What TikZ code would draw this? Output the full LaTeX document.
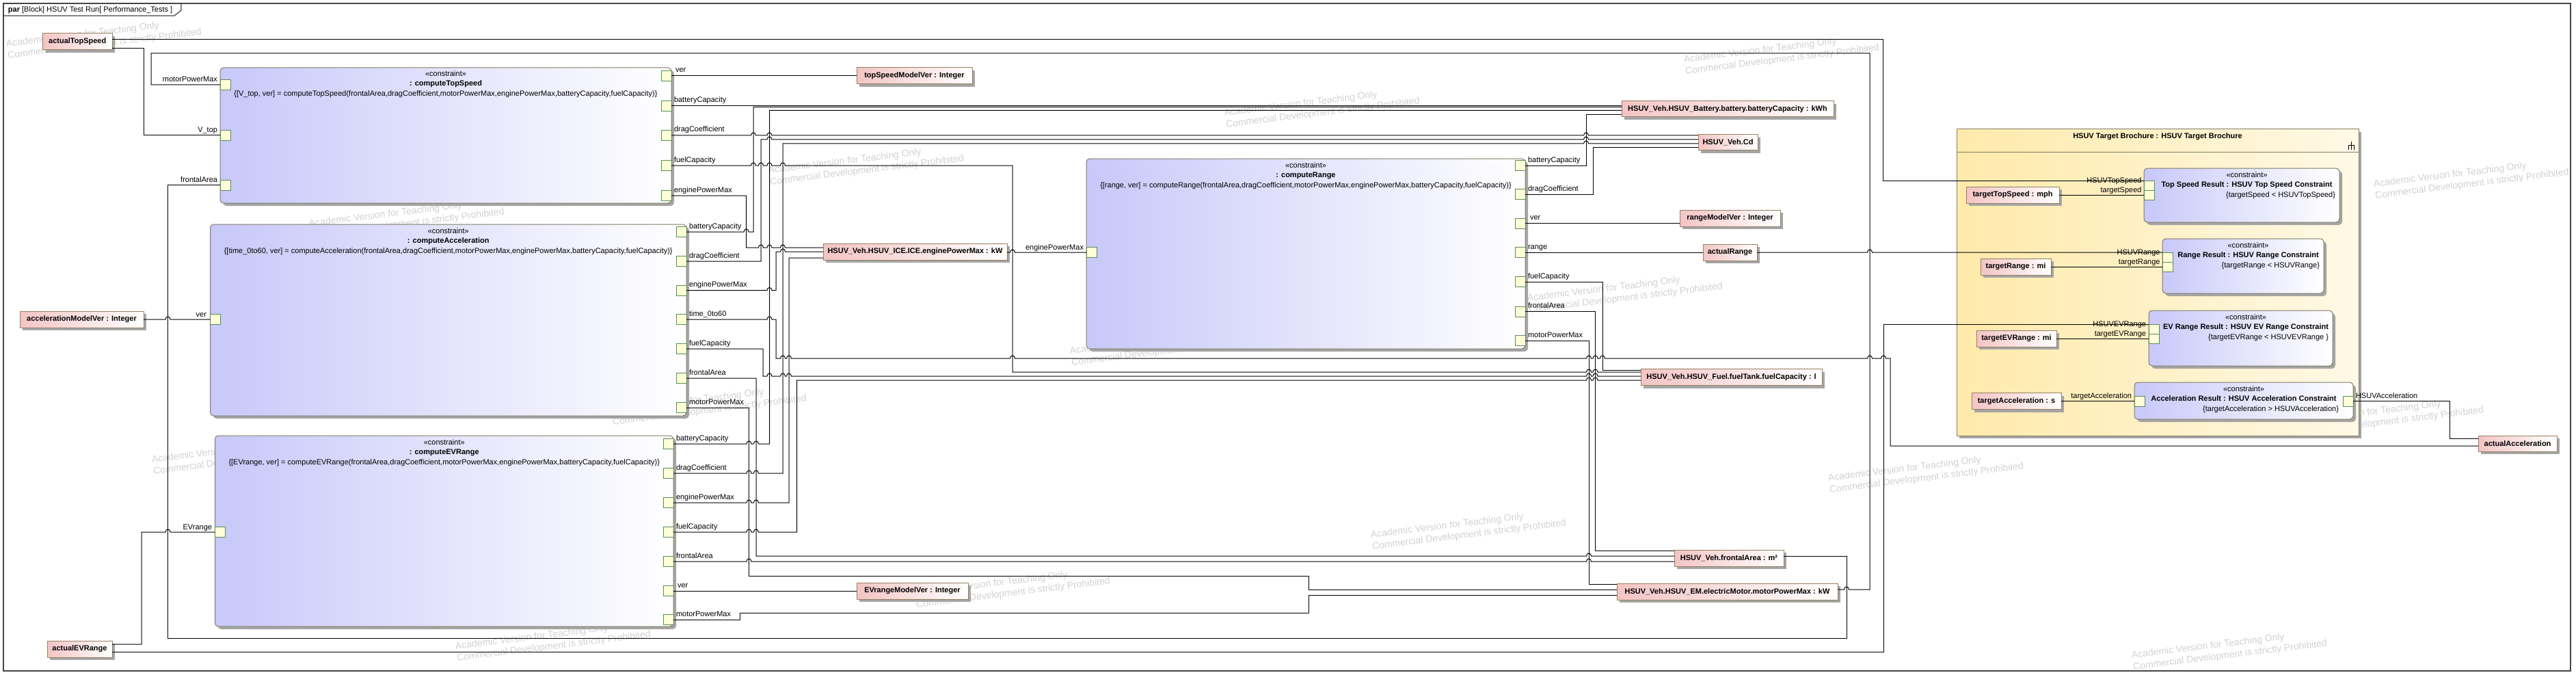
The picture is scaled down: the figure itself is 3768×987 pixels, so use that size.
\documentclass[tikz,border=0pt]{standalone}
\usepackage{fontspec}
\setmainfont{Liberation Sans}
\usetikzlibrary{shadows}
\definecolor{clav}{RGB}{200,200,250}
\definecolor{cborder}{RGB}{130,125,100}
\definecolor{vpink}{RGB}{244,196,196}
\definecolor{vborder}{RGB}{150,130,100}
\definecolor{shadowc}{RGB}{165,165,165}
\definecolor{portfill}{RGB}{255,255,215}
\definecolor{portdraw}{RGB}{90,140,90}
\definecolor{brochL}{RGB}{255,234,170}
\definecolor{brochR}{RGB}{255,249,230}
\definecolor{framec}{RGB}{70,70,70}
\definecolor{wmc}{RGB}{210,210,210}
\newcommand\fs{\fontsize{11}{13}\selectfont}
\newcommand\wmfs{\fontsize{14}{17}\selectfont}
\newcommand\hopR[2]{-- ({#1-3.5},#2) .. controls ({#1-3.5},{#2-5.3}) and ({#1+3.5},{#2-5.3}) .. ({#1+3.5},#2)}
\newcommand\wmtext{Academic Version for Teaching Only\\Commercial Development is strictly Prohibited}
\begin{document}
\begin{tikzpicture}[x=1pt,y=-1pt,
  every node/.style={inner sep=0pt, outer sep=0pt, font=\fs},
  conn/.style={line width=1pt, draw=black},
  shad/.style={drop shadow={shadow xshift=4pt, shadow yshift=-4pt, fill=shadowc, opacity=1}},
  vbox/.style={shad, draw=vborder, line width=1pt, left color=vpink, right color=white, font=\fs\bfseries, minimum height=24pt},
  cbox/.style={shad, draw=cborder, line width=1pt, rounded corners=5pt, left color=clav, right color=white},
  broch/.style={shad, draw=cborder, line width=1pt, left color=brochL, right color=brochR},
  port/.style={draw=portdraw, fill=portfill, line width=0.9pt, minimum width=15pt, minimum height=15pt},
  sport/.style={port, minimum height=14pt},
  lblL/.style={anchor=base east},
  lblR/.style={anchor=base west},
  ctxt/.style={anchor=base},
  ctitle/.style={anchor=base, font=\fs\bfseries},
  wm/.style={font=\wmfs, text=wmc, rotate=7, align=left}
]
\useasboundingbox (0,0) rectangle (3768,987);
\fill[white] (0,0) rectangle (3768,987);

% watermarks
\node[wm] (wm1) at (152,56) {\wmtext};
\node[wm] (wm2) at (595,319) {\wmtext};
\node[wm] (wm3) at (1037,592) {\wmtext};
\node[wm] (wm4) at (365,664) {\wmtext};
\node[wm] (wm5) at (809,937) {\wmtext};
\node[wm] (wm6) at (1267,241) {\wmtext};
\node[wm] (wm7) at (1934,157) {\wmtext};
\node[wm] (wm8) at (1708,505) {\wmtext};
\node[wm] (wm9) at (1481,859) {\wmtext};
\node[wm] (wm10) at (2377,428) {\wmtext};
\node[wm] (wm11) at (2148,774) {\wmtext};
\node[wm] (wm12) at (2817,691) {\wmtext};
\node[wm] (wm13) at (3615,261) {\wmtext};
\node[wm] (wm14) at (3490,609) {\wmtext};
\node[wm] (wm15) at (3261,950) {\wmtext};
\node[wm] (wm16) at (2606,79) {\wmtext};

% frame
\draw[framec, line width=1.5pt] (5,5) rectangle (3760,981);
\draw[framec, line width=1.2pt] (5,23) -- (255,23) -- (265,15) -- (265,5);
\node[anchor=base west] (title) at (12,18) {\textbf{par} [Block] HSUV Test Run[ Performance\_Tests ]};

% constraint blocks
\node[cbox, minimum width=660pt, minimum height=198pt] (ts) at (652,198) {};
\node[ctxt] (ts-st) at (652,112) {«constraint»};
\node[ctitle] (ts-nm) at (652,126) {: computeTopSpeed};
\node[ctxt] (ts-fm) at (652,141) {\{[V\_top, ver] = computeTopSpeed(frontalArea,dragCoefficient,motorPowerMax,enginePowerMax,batteryCapacity,fuelCapacity)\}};

\node[cbox, minimum width=696.5pt, minimum height=280pt] (ac) at (655.75,468) {};
\node[ctxt] (ac-st) at (655.75,341) {«constraint»};
\node[ctitle] (ac-nm) at (655.75,355) {: computeAcceleration};
\node[ctxt] (ac-fm) at (655.75,370) {\{[time\_0to60, ver] = computeAcceleration(frontalArea,dragCoefficient,motorPowerMax,enginePowerMax,batteryCapacity,fuelCapacity)\}};

\node[cbox, minimum width=670.5pt, minimum height=279pt] (ev) at (649.75,776.5) {};
\node[ctxt] (ev-st) at (649.75,650) {«constraint»};
\node[ctitle] (ev-nm) at (649.75,664) {: computeEVRange};
\node[ctxt] (ev-fm) at (649.75,679) {\{[EVrange, ver] = computeEVRange(frontalArea,dragCoefficient,motorPowerMax,enginePowerMax,batteryCapacity,fuelCapacity)\}};

\node[cbox, minimum width=642pt, minimum height=278pt] (rg) at (1910,371) {};
\node[ctxt] (rg-st) at (1910,245) {«constraint»};
\node[ctitle] (rg-nm) at (1910,259) {: computeRange};
\node[ctxt] (rg-fm) at (1910,274) {\{[range, ver] = computeRange(frontalArea,dragCoefficient,motorPowerMax,enginePowerMax,batteryCapacity,fuelCapacity)\}};

% brochure
\node[broch, minimum width=588pt, minimum height=448pt] (br) at (3156,413) {};
\draw[cborder, line width=1pt] (br.west |- 0,222) -- (br.east |- 0,222);
\node[ctitle] (br-t) at (3156,203) {HSUV Target Brochure : HSUV Target Brochure};
\draw[black, line width=0.9pt] (3439,207) -- (3439,212) (3435,212) -- (3443,212) (3435,212) -- (3435,219) (3439,212) -- (3439,219) (3443,212) -- (3443,219);

\node[cbox, minimum width=286pt, minimum height=79pt] (rts) at (3279,285.5) {};
\node[ctxt] (rts-st) at (3286.5,259) {«constraint»};
\node[ctitle] (rts-nm) at (3286.5,273) {Top Speed Result : HSUV Top Speed Constraint};
\node[anchor=base east] (rts-fm) at (3416,288) {\{targetSpeed < HSUVTopSpeed\}};

\node[cbox, minimum width=236pt, minimum height=80pt] (rrg) at (3281,389) {};
\node[ctxt] (rrg-st) at (3288.5,362) {«constraint»};
\node[ctitle] (rrg-nm) at (3288.5,376) {Range Result : HSUV Range Constraint};
\node[anchor=base east] (rrg-fm) at (3393,391) {\{targetRange < HSUVRange\}};

\node[cbox, minimum width=269pt, minimum height=81pt] (rev) at (3277.5,494.5) {};
\node[ctxt] (rev-st) at (3285,467) {«constraint»};
\node[ctitle] (rev-nm) at (3285,481) {EV Range Result : HSUV EV Range Constraint};
\node[anchor=base east] (rev-fm) at (3406,496) {\{targetEVRange < HSUVEVRange \}};

\node[cbox, minimum width=320pt, minimum height=54pt] (racc) at (3282,586) {};
\node[ctxt] (racc-st) at (3282,572) {«constraint»};
\node[ctitle] (racc-nm) at (3282,586) {Acceleration Result : HSUV Acceleration Constraint};
\node[anchor=base east] (racc-fm) at (3421,601) {\{targetAcceleration > HSUVAcceleration\}};

% value properties
\node[vbox, minimum width=101.5pt] (vATS) at (113.25,61) {actualTopSpeed};
\node[vbox, minimum width=181pt] (vAMV) at (119.5,467) {accelerationModelVer : Integer};
\node[vbox, minimum width=95pt] (vAEV) at (116.5,949) {actualEVRange};
\node[vbox, minimum width=169pt] (vTSMV) at (1337.5,111) {topSpeedModelVer : Integer};
\node[vbox, minimum width=269pt] (vICE) at (1338.5,368) {HSUV\_Veh.HSUV\_ICE.ICE.enginePowerMax : kW};
\node[vbox, minimum width=310pt, minimum height=23pt] (vBAT) at (2527,159.5) {HSUV\_Veh.HSUV\_Battery.battery.batteryCapacity : kWh};
\node[vbox, minimum width=87pt, minimum height=23pt] (vCD) at (2527.5,208.5) {HSUV\_Veh.Cd};
\node[vbox, minimum width=147pt] (vRMV) at (2530.5,319) {rangeModelVer : Integer};
\node[vbox, minimum width=79pt] (vAR) at (2530.5,369) {actualRange};
\node[vbox, minimum width=265pt] (vFUEL) at (2532.5,551.5) {HSUV\_Veh.HSUV\_Fuel.fuelTank.fuelCapacity : l};
\node[vbox, minimum width=160pt] (vFA) at (2529,816) {HSUV\_Veh.frontalArea : m²};
\node[vbox, minimum width=323pt] (vEM) at (2526.5,865) {HSUV\_Veh.HSUV\_EM.electricMotor.motorPowerMax : kW};
\node[vbox, minimum width=163pt] (vEVMV) at (1334.5,864) {EVrangeModelVer : Integer};
\node[vbox, minimum width=115pt, minimum height=23pt] (vAA) at (3682.5,648.5) {actualAcceleration};
\node[vbox, minimum width=136pt] (vTTS) at (2944,285) {targetTopSpeed : mph};
\node[vbox, minimum width=103pt] (vTR) at (2948.5,390) {targetRange : mi};
\node[vbox, minimum width=117pt] (vTEV) at (2949.5,495) {targetEVRange : mi};
\node[vbox, minimum width=131pt] (vTA) at (2949.5,586.5) {targetAcceleration : s};

% ports computeTopSpeed
\node[port] (p-ts-mpm) at (329.5,124) {};
\node[port] (p-ts-vtop) at (329.5,198) {};
\node[port] (p-ts-fa) at (329.5,270.5) {};
\node[port] (p-ts-ver) at (974.5,111) {};
\node[port] (p-ts-bat) at (974.5,155) {};
\node[port] (p-ts-drag) at (974.5,198) {};
\node[port] (p-ts-fuel) at (974.5,242) {};
\node[port] (p-ts-eng) at (974.5,286) {};
\node[lblL] (l-ts-mpm) at (318,120) {motorPowerMax};
\node[lblL] (l-ts-vtop) at (318,194) {V\_top};
\node[lblL] (l-ts-fa) at (318,266.5) {frontalArea};
\node[lblR] (l-ts-ver) at (988,106) {ver};
\node[lblR] (l-ts-bat) at (986,150) {batteryCapacity};
\node[lblR] (l-ts-drag) at (986,193) {dragCoefficient};
\node[lblR] (l-ts-fuel) at (986,237) {fuelCapacity};
\node[lblR] (l-ts-eng) at (986,281) {enginePowerMax};

% ports computeAcceleration
\node[port] (p-ac-ver) at (315,467) {};
\node[port] (p-ac-bat) at (996.5,339) {};
\node[port] (p-ac-drag) at (996.5,382) {};
\node[port] (p-ac-eng) at (996.5,424.5) {};
\node[port] (p-ac-time) at (996.5,467) {};
\node[port] (p-ac-fuel) at (996.5,510) {};
\node[port] (p-ac-fa) at (996.5,553) {};
\node[port] (p-ac-mpm) at (996.5,596) {};
\node[lblL] (l-ac-ver) at (302,463) {ver};
\node[lblR] (l-ac-bat) at (1008,334) {batteryCapacity};
\node[lblR] (l-ac-drag) at (1008,377) {dragCoefficient};
\node[lblR] (l-ac-eng) at (1008,419.5) {enginePowerMax};
\node[lblR] (l-ac-time) at (1008,462) {time\_0to60};
\node[lblR] (l-ac-fuel) at (1008,505) {fuelCapacity};
\node[lblR] (l-ac-fa) at (1008,548) {frontalArea};
\node[lblR] (l-ac-mpm) at (1008,591) {motorPowerMax};

% ports computeEVRange
\node[port] (p-ev-evr) at (322,778) {};
\node[port] (p-ev-bat) at (977.5,649) {};
\node[port] (p-ev-drag) at (977.5,692) {};
\node[port] (p-ev-eng) at (977.5,735) {};
\node[port] (p-ev-fuel) at (977.5,778) {};
\node[port] (p-ev-fa) at (977.5,821) {};
\node[port] (p-ev-ver) at (977.5,864) {};
\node[port] (p-ev-mpm) at (977.5,906) {};
\node[lblL] (l-ev-evr) at (310,774) {EVrange};
\node[lblR] (l-ev-bat) at (989,644) {batteryCapacity};
\node[lblR] (l-ev-drag) at (989,687) {dragCoefficient};
\node[lblR] (l-ev-eng) at (989,730) {enginePowerMax};
\node[lblR] (l-ev-fuel) at (989,773) {fuelCapacity};
\node[lblR] (l-ev-fa) at (989,816) {frontalArea};
\node[lblR] (l-ev-ver) at (991,859) {ver};
\node[lblR] (l-ev-mpm) at (989,901) {motorPowerMax};

% ports computeRange
\node[port] (p-rg-eng) at (1596.5,369) {};
\node[port] (p-rg-bat) at (2223.5,242) {};
\node[port] (p-rg-drag) at (2223.5,284) {};
\node[port] (p-rg-ver) at (2223.5,326.5) {};
\node[port] (p-rg-range) at (2223.5,369) {};
\node[port] (p-rg-fuel) at (2223.5,412) {};
\node[port] (p-rg-fa) at (2223.5,455.5) {};
\node[port] (p-rg-mpm) at (2223.5,498) {};
\node[lblL] (l-rg-eng) at (1585,365) {enginePowerMax};
\node[lblR] (l-rg-bat) at (2235,237) {batteryCapacity};
\node[lblR] (l-rg-drag) at (2235,279) {dragCoefficient};
\node[lblR] (l-rg-ver) at (2238,321.5) {ver};
\node[lblR] (l-rg-range) at (2235,364) {range};
\node[lblR] (l-rg-fuel) at (2235,407) {fuelCapacity};
\node[lblR] (l-rg-fa) at (2235,450.5) {frontalArea};
\node[lblR] (l-rg-mpm) at (2235,493) {motorPowerMax};

% ports of result constraints
\node[sport] (p-rts-hs) at (3143.5,271) {};
\node[sport] (p-rts-ts) at (3143.5,285) {};
\node[lblL] (l-rts-hs) at (3132.5,267) {HSUVTopSpeed};
\node[lblL] (l-rts-ts) at (3132.5,281) {targetSpeed};
\node[sport] (p-rrg-hs) at (3170.5,376) {};
\node[sport] (p-rrg-tr) at (3170.5,390) {};
\node[lblL] (l-rrg-hs) at (3159.5,372) {HSUVRange};
\node[lblL] (l-rrg-tr) at (3159.5,386) {targetRange};
\node[sport] (p-rev-hs) at (3150.5,481) {};
\node[sport] (p-rev-tev) at (3150.5,495) {};
\node[lblL] (l-rev-hs) at (3139,477) {HSUVEVRange};
\node[lblL] (l-rev-tev) at (3139,491) {targetEVRange};
\node[port] (p-racc-ta) at (3129.5,586.5) {};
\node[port] (p-racc-hs) at (3434.5,586.5) {};
\node[lblL] (l-racc-ta) at (3118,582) {targetAcceleration};
\node[lblR] (l-racc-hs) at (3446,582) {HSUVAcceleration};

% connectors
\draw[conn] (vATS.east |- 0,70.5) -- (210.5,70.5) |- (p-ts-vtop.west);
\draw[conn] (vATS.east |- 0,58) -- (2754,58) |- (p-rts-hs.north west);
\draw[conn] (vEM.east |- 0,862) \hopR{2701}{862} -- (2735,862) -- (2735,78) -- (221,78) |- (p-ts-mpm.west);
\draw[conn] (p-ts-fa.west) -- (245.6,270.5) -- (245.6,933) -- (2701,933) -- (2701,813) -- (vFA.east |- 0,813);
\draw[conn] (vAMV.east) \hopR{245.6}{467} -- (p-ac-ver.west);
\draw[conn] (vAEV.east |- 0,942) -- (207,942) -- (207,778) \hopR{245.6}{778} -- (p-ev-evr.west);
\draw[conn] (vAEV.east |- 0,953) -- (2755,953) |- (p-rev-hs.north west);
\draw[conn] (p-ts-ver.east) -- (vTSMV.west);
\draw[conn] (p-ts-bat.east) -- (vBAT.west |- 0,155);
\draw[conn] (p-ac-bat.east) \hopR{1091.6}{339} -- (1102,339) -- (1102,156.5) -- (vBAT.west |- 0,156.5);
\draw[conn] (p-ev-bat.east) \hopR{1095.5}{649} \hopR{1106}{649} -- (1125.5,649) -- (1125.5,161.5) -- (vBAT.west |- 0,161.5);
\draw[conn] (p-rg-bat.east) -- (2320,242) -- (2320,168) -- (vBAT.west |- 0,168);
\draw[conn] (p-ts-drag.east) \hopR{1102}{198} \hopR{1125.5}{198} \hopR{2320}{198} -- (vCD.west |- 0,198);
\draw[conn] (p-ac-drag.east) -- (1113,382) -- (1113,204) \hopR{1125.5}{204} \hopR{2320}{204} -- (vCD.west |- 0,204);
\draw[conn] (p-ev-drag.east) \hopR{1095.5}{692} \hopR{1106}{692} -- (1145,692) -- (1145,210) \hopR{2320}{210} -- (vCD.west |- 0,210);
\draw[conn] (p-rg-drag.east) -- (2330.5,284) -- (2330.5,216) -- (vCD.west |- 0,216);
\draw[conn] (p-ts-fuel.east) \hopR{1102}{242} \hopR{1113}{242} \hopR{1125.5}{242} \hopR{1145}{242} -- (1481,242) -- (1481,544) \hopR{2324}{544} \hopR{2333.5}{544} -- (vFUEL.west |- 0,544);
\draw[conn] (p-ac-fuel.east) -- (1116,510) -- (1116,550) \hopR{1125.5}{550} \hopR{1145}{550} \hopR{1154}{550} \hopR{2324}{550} \hopR{2333.5}{550} -- (vFUEL.west |- 0,550);
\draw[conn] (p-ev-fuel.east) \hopR{1095.5}{778} \hopR{1106}{778} -- (1165.6,778) -- (1165.6,556) \hopR{2324}{556} \hopR{2333.5}{556} -- (vFUEL.west |- 0,556);
\draw[conn] (p-rg-fuel.east) -- (2344,412) -- (2344,541) -- (vFUEL.west |- 0,541);
\draw[conn] (p-ts-eng.east) -- (1091.6,286) -- (1091.6,362) \hopR{1113}{362} \hopR{1125.5}{362} \hopR{1145}{362} -- (vICE.west |- 0,362);
\draw[conn] (p-ac-eng.east) \hopR{1125.5}{424.5} -- (1135,424.5) -- (1135,368) \hopR{1145}{368} -- (vICE.west |- 0,368);
\draw[conn] (p-ev-eng.east) \hopR{1095.5}{735} \hopR{1106}{735} -- (1154,735) -- (1154,377) -- (vICE.west |- 0,377);
\draw[conn] (vICE.east |- 0,369) \hopR{1481}{369} -- (p-rg-eng.west);
\draw[conn] (p-ac-time.east) \hopR{1125.5}{467} -- (1135,467) -- (1135,524) \hopR{1145}{524} \hopR{1154}{524} \hopR{1481}{524} \hopR{2324}{524} \hopR{2333.5}{524} \hopR{2344}{524} \hopR{2735}{524} \hopR{2755}{524} -- (2765,524) -- (2765,652) -- (vAA.west |- 0,652);
\draw[conn] (p-ac-fa.east) -- (1106,553) -- (1106,813) \hopR{2324}{813} -- (vFA.west |- 0,813);
\draw[conn] (p-ev-fa.east) \hopR{1095.5}{821} \hopR{2324}{821} -- (vFA.west |- 0,821);
\draw[conn] (p-rg-fa.east) -- (2333.5,455.5) -- (2333.5,805) -- (vFA.west |- 0,805);
\draw[conn] (p-ac-mpm.east) -- (1095.5,596) -- (1095.5,842) -- (1914,842) -- (1914,862) -- (vEM.west |- 0,862);
\draw[conn] (p-ev-mpm.east) -- (1082,906) -- (1082,896) -- (1914,896) -- (1914,870) -- (vEM.west |- 0,870);
\draw[conn] (p-rg-mpm.east) -- (2324,498) -- (2324,854) -- (vEM.west |- 0,854);
\draw[conn] (p-rg-range.east) -- (vAR.west);
\draw[conn] (vAR.east) \hopR{2735}{369} -- (p-rrg-hs.north west);
\draw[conn] (p-rg-ver.east) -- (vRMV.west |- 0,326.5);
\draw[conn] (p-racc-hs.east) -- (3583,586.5) -- (3583,641) -- (vAA.west |- 0,641);
\draw[conn] (vTTS.east) -- (p-rts-ts.west);
\draw[conn] (vTR.east) -- (p-rrg-tr.west);
\draw[conn] (vTEV.east) -- (p-rev-tev.west);
\draw[conn] (vTA.east) -- (p-racc-ta.west);
\draw[conn] (p-ev-ver.east) -- (vEVMV.west);
\end{tikzpicture}
\end{document}
